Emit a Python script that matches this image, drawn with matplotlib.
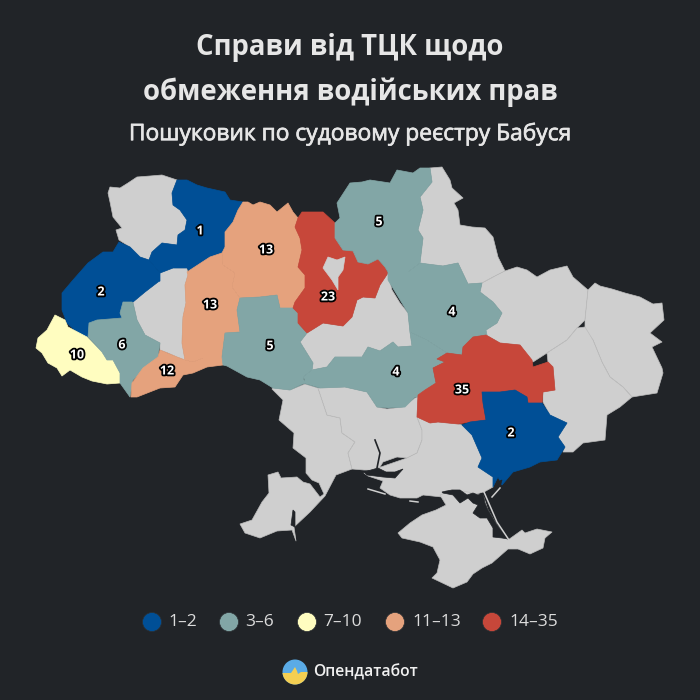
import matplotlib
matplotlib.use('Agg')
import matplotlib.pyplot as plt
import matplotlib.patheffects as pe
from matplotlib.patches import Circle, Polygon

# region outlines (image pixels)
volyn = [(110,187),(120,188),(128,183),(137,177),(150,176),(162,175),(177,180),(172,193),(173,205),(180,210),(187,220),(185,230),(178,235),(177,245),(162,243),(152,252),(149,260),(140,257),(130,247),(119,240),(116,230),(122,228),(113,217),(110,202),(108,193)]
rivne = [(177,180),(187,180),(197,185),(207,188),(216,190),(225,192),(230,200),(243,202),(238,210),(233,222),(225,232),(225,247),(222,253),(210,257),(190,272),(187,268),(173,268),(160,273),(149,260),(152,252),(162,243),(177,245),(178,235),(185,230),(187,220),(180,210),(173,205),(172,193)]
lviv = [(119,242),(130,247),(140,257),(149,260),(160,273),(160,281),(158,282),(145,292),(133,302),(125,302),(120,313),(122,318),(97,320),(88,337),(80,335),(67,323),(62,310),(62,293),(73,280),(88,263),(103,252),(113,252)]
zakarpattia = [(55,315),(65,320),(68,327),(87,337),(102,352),(107,360),(113,360),(120,373),(120,383),(107,384),(92,381),(82,377),(70,370),(62,376),(57,368),(48,363),(42,353),(36,348),(38,338),(47,330)]
frankivsk = [(123,302),(132,302),(133,303),(137,320),(145,335),(160,343),(158,357),(145,368),(133,380),(130,397),(120,383),(120,373),(113,360),(107,360),(102,352),(88,337),(89,323),(97,320),(122,318),(120,313)]
ternopil = [(133,302),(145,292),(158,282),(160,273),(173,268),(187,268),(188,275),(185,285),(186,303),(183,317),(182,343),(185,360),(177,357),(168,353),(160,350),(160,343),(145,335),(137,320)]
chernivtsi = [(160,350),(177,357),(185,360),(193,362),(203,358),(223,358),(223,365),(207,367),(193,373),(183,375),(175,387),(160,388),(137,397),(131,397),(132,383),(143,368),(158,357)]
khmelnytskyi = [(187,272),(210,257),(222,253),(223,265),(235,273),(232,287),(240,298),(237,310),(240,332),(225,333),(222,357),(223,358),(203,358),(193,362),(185,360),(182,343),(183,317),(186,303),(185,285),(188,275)]
zhytomyr = [(243,202),(248,202),(253,205),(260,202),(270,205),(277,212),(288,203),(293,212),(298,218),(295,227),(300,238),(302,250),(298,267),(305,275),(305,288),(295,302),(293,308),(280,308),(277,295),(260,297),(240,298),(232,287),(235,273),(223,265),(222,253),(225,247),(225,232),(233,222),(238,210)]
vinnytsia = [(240,298),(260,297),(277,295),(280,308),(293,308),(298,313),(298,323),(307,333),(300,342),(313,363),(312,370),(303,377),(305,383),(290,390),(273,388),(260,380),(247,377),(227,366),(223,365),(222,357),(225,333),(240,332),(237,310)]
kyiv = [(295,227),(298,218),(302,212),(323,212),(335,223),(335,238),(343,250),(353,251),(358,262),(368,264),(378,259),(385,267),(388,273),(380,285),(375,298),(363,297),(357,300),(352,317),(343,326),(323,323),(307,333),(298,323),(298,313),(293,308),(295,302),(305,288),(305,275),(298,267),(302,250),(300,238)]
kyiv_city = [(323,268),(328,257),(337,260),(345,257),(343,270),(338,277),(338,290),(332,280)]
chernihiv = [(430,168),(432,182),(420,197),(423,210),(418,230),(423,238),(420,263),(408,272),(388,272),(385,267),(378,259),(368,264),(358,262),(353,251),(343,250),(335,238),(335,223),(340,218),(337,203),(350,183),(362,182),(370,180),(390,183),(397,170),(413,173),(420,168)]
sumy = [(430,168),(442,167),(450,180),(452,188),(463,198),(454,203),(458,210),(460,225),(472,227),(485,228),(493,237),(498,257),(505,271),(497,275),(482,283),(468,284),(458,263),(443,266),(427,264),(420,263),(423,238),(418,230),(423,210),(420,197),(432,182)]
poltava = [(388,272),(408,272),(420,263),(427,264),(443,266),(458,263),(468,284),(482,283),(480,292),(493,302),(502,313),(497,323),(486,330),(487,335),(473,337),(463,347),(462,355),(447,353),(427,340),(410,332),(408,313),(388,280)]
cherkasy = [(388,273),(392,290),(400,303),(408,313),(410,332),(412,346),(398,347),(393,342),(380,351),(368,347),(362,357),(335,357),(327,367),(312,370),(313,363),(300,342),(307,333),(323,323),(343,326),(352,317),(357,300),(363,297),(375,298),(380,285)]
kirovohrad = [(410,332),(427,340),(447,353),(437,359),(445,362),(433,368),(436,383),(418,397),(415,397),(405,407),(388,408),(377,407),(367,392),(345,387),(320,388),(303,383),(305,380),(303,377),(312,370),(327,367),(335,357),(362,357),(368,347),(380,351),(393,342),(398,347),(412,346)]
dnipro = [(462,355),(463,347),(473,337),(486,335),(500,343),(520,345),(532,360),(533,367),(548,362),(553,367),(555,390),(543,392),(542,403),(528,403),(527,397),(515,390),(500,392),(482,392),(483,403),(486,420),(470,422),(458,424),(438,422),(430,423),(417,417),(418,395),(425,390),(436,383),(433,368),(445,362),(437,359),(447,353)]
zaporizhzhia = [(482,392),(500,392),(515,390),(527,397),(528,403),(542,403),(550,415),(567,423),(558,437),(565,447),(557,460),(540,462),(530,467),(513,472),(502,485),(498,477),(493,487),(493,477),(478,467),(482,458),(472,435),(462,425),(470,422),(486,420),(483,403)]
kharkiv = [(482,283),(497,275),(505,271),(517,267),(527,270),(537,277),(550,270),(567,266),(573,277),(588,290),(585,320),(577,328),(567,340),(547,353),(533,362),(520,345),(500,343),(486,335),(486,330),(497,323),(502,313),(493,302),(480,292)]
luhansk = [(588,290),(595,283),(600,286),(612,289),(625,293),(640,297),(653,304),(662,303),(664,320),(650,333),(662,342),(652,347),(662,368),(663,373),(657,393),(632,397),(623,387),(610,377),(602,362),(593,340),(585,330),(585,320)]
donetsk = [(577,328),(585,327),(593,340),(602,362),(610,377),(623,387),(632,397),(620,407),(607,415),(605,440),(583,443),(573,452),(563,452),(565,447),(558,437),(567,423),(550,415),(543,402),(543,392),(555,390),(553,367),(548,362),(547,353),(567,340)]
odesa = [(272,389),(273,388),(290,390),(305,384),(318,388),(327,415),(340,418),(342,433),(355,442),(348,453),(352,469),(336,475),(325,496),(310,512),(294,527),(296,541),(292,530),(277,531),(260,538),(245,533),(240,524),(252,520),(262,502),(269,493),(268,475),(278,472),(281,478),(297,477),(303,482),(310,484),(320,497),(324,494),(319,483),(312,480),(306,473),(306,458),(293,448),(294,433),(279,420),(283,400)]
mykolaiv = [(318,388),(345,387),(367,392),(377,407),(387,409),(403,407),(415,398),(418,397),(417,417),(422,430),(422,440),(417,453),(407,458),(397,457),(383,462),(378,470),(364,470),(352,469),(348,453),(355,442),(342,433),(340,418),(327,415)]
kherson = [(417,417),(430,423),(438,422),(458,424),(462,425),(472,435),(482,458),(478,467),(493,477),(493,487),(484,492),(476,494),(468,494),(458,490),(452,490),(445,491),(442,497),(423,495),(417,498),(400,498),(390,495),(380,488),(383,481),(368,476),(364,473),(378,468),(407,458),(417,453),(422,440),(422,430)]
crimea = [(440,495),(446,505),(436,510),(422,515),(410,523),(398,533),(402,538),(420,542),(433,547),(440,560),(437,573),(432,578),(453,588),(467,582),(473,574),(482,568),(492,563),(508,549),(518,549),(530,554),(543,548),(545,538),(552,532),(537,529),(525,533),(522,530),(508,540),(497,525),(488,510),(483,495),(468,492),(452,490)]

# dark water cut into the land
sivash = [(442,492),(452,490),(460,490),(467,495),(473,493),(478,495),(483,493),(485,503),(488,510),(497,525),(508,539),(502,538),(493,537),(493,528),(487,518),(480,518),(473,513),(478,505),(473,503),(468,498),(460,503),(453,495),(443,493)]
dnipro_liman = [(378,468),(386,472),(395,472),(403,469),(395,478),(383,477),(367,475),(364,472)]
bug_river = [(375,440),(380,453),(377,468)]
sasyk = [(293,510),(295,512),(295,527),(291,525)]
molochna = [(493,492),(497,482),(502,480),(500,487)]

# thin spits of land
arabat = [(484,492),(497,522),(509,540)]
fedotov = [(492,497),(500,488)]
tendra = [(368,489),(385,494)]
dzharylhach = [(410,501),(418,502)]

regions = [volyn, rivne, lviv, zakarpattia, frankivsk, ternopil, chernivtsi, khmelnytskyi, zhytomyr, vinnytsia, kyiv, kyiv_city, chernihiv, sumy, poltava, cherkasy, kirovohrad, dnipro, zaporizhzhia, kharkiv, luhansk, donetsk, odesa, mykolaiv, kherson, crimea]
cases = [0, 1, 2, 10, 6, 0, 12, 13, 13, 5, 23, 0, 5, 0, 4, 0, 4, 35, 2, 0, 0, 0, 0, 0, 0, 0]
label_x = [0, 200, 101, 77, 122, 0, 167, 210, 266, 270, 328, 0, 379, 0, 452, 0, 396, 462, 511, 0, 0, 0, 0, 0, 0, 0]
label_y = [0, 231, 292, 355, 345, 0, 371, 305, 250, 346, 297, 0, 222, 0, 312, 0, 372, 390, 433, 0, 0, 0, 0, 0, 0, 0]

bin_tops = [2, 6, 10, 13, 35]
bin_labels = ['1–2', '3–6', '7–10', '11–13', '14–35']
bin_colors = ['#004f96', '#82a6a6', '#fffdc0', '#e5a27d', '#c7473a']
legend_dot_x = [152, 229, 307, 395, 492]
legend_text_x = [168, 245, 323, 412, 509]

BG = '#212428'
GREY = '#cfcfcf'

plt.rcParams['font.family'] = ['Open Sans', 'DejaVu Sans']


def colorFor(n):
    if n == 0:
        return GREY
    for top, col in zip(bin_tops, bin_colors):
        if n <= top:
            return col
    return GREY


fig = plt.figure(figsize=(7, 7), dpi=100, facecolor=BG)
ax = fig.add_axes([0, 0, 1, 1])
ax.set_xlim(0, 700)
ax.set_ylim(700, 0)
ax.axis('off')

# map
for shape, n in zip(regions, cases):
    col = colorFor(n)
    edge = '#bdbdbd' if n == 0 else col
    ax.add_patch(Polygon(shape, closed=True, facecolor=col, edgecolor=edge, linewidth=0.5, joinstyle='round', zorder=2 if n == 0 else 3))
ax.add_patch(Polygon(kyiv_city, closed=True, facecolor=GREY, edgecolor=GREY, linewidth=0.5, zorder=4))

for water in [sivash, dnipro_liman, sasyk, molochna]:
    ax.add_patch(Polygon(water, closed=True, facecolor=BG, edgecolor=BG, linewidth=0.5, zorder=5))
ax.plot(*zip(*bug_river), color=BG, lw=1.2, zorder=5)
for spit in [arabat, fedotov, tendra, dzharylhach]:
    ax.plot(*zip(*spit), color=GREY, lw=1.1, zorder=6)

for n, x, y in zip(cases, label_x, label_y):
    if n > 0:
        ax.text(x, y, str(n), ha='center', va='center', fontsize=9, fontweight='bold', color='white', zorder=8,
                path_effects=[pe.withStroke(linewidth=2.6, foreground='black')])

# titles
ax.text(350, 47, 'Справи від ТЦК щодо', ha='center', va='center', fontsize=19.8, fontweight='bold', color='#e6e6e6')
ax.text(350, 92, 'обмеження водійських прав', ha='center', va='center', fontsize=19.8, fontweight='bold', color='#e6e6e6')
ax.text(350, 134, 'Пошуковик по судовому реєстру Бабуся', ha='center', va='center', fontsize=16.4, color='#e6e6e6',
        path_effects=[pe.withStroke(linewidth=0.5, foreground='#e6e6e6')])

# legend
for dot, tx, lab, col in zip(legend_dot_x, legend_text_x, bin_labels, bin_colors):
    ax.add_patch(Circle((dot, 622), 9.5, facecolor=col, edgecolor='#2c3034', linewidth=0.5))
    ax.text(tx, 622, lab, ha='left', va='center', fontsize=12.5, color='#dcdcdc')

# logo
disc = Circle((295, 672), 12.5, facecolor='#5aabe6', edgecolor='none', zorder=3)
ax.add_patch(disc)
sun = Polygon([(280,673),(291,673),(293,670),(295,667),(297,671),(298,674),(301,672),(310,672),(310,688),(280,688)], closed=True, facecolor='#f4cf52', edgecolor='none', zorder=4)
ax.add_patch(sun)
sun.set_clip_path(disc)
ax.text(313, 672, 'Опендатабот', ha='left', va='center', fontsize=11.3, fontweight='semibold', color='#f0f0f0')

fig.savefig('out.png', dpi=100, facecolor=BG)
